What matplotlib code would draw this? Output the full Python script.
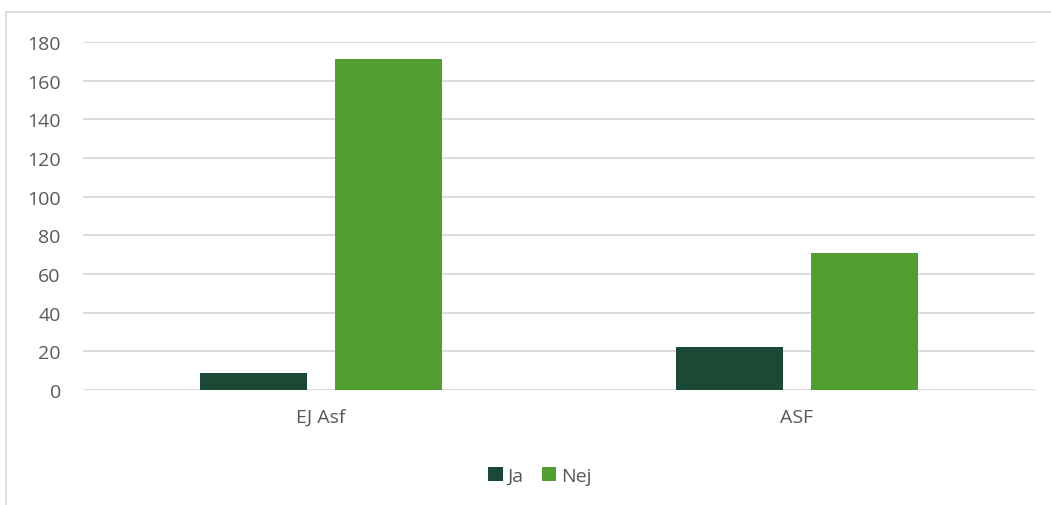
import matplotlib.pyplot as plt
import numpy as np
from matplotlib.patches import Rectangle

categories = ["EJ Asf", "ASF"]
series_names = ["Ja", "Nej"]
ja_values = [9, 22]
nej_values = [171, 71]
y_ticks = [0, 20, 40, 60, 80, 100, 120, 140, 160, 180]

colors = ["#1A4A36", "#519E32"]
text_color = "#595959"
grid_color = "#D9D9D9"

plt.rcParams['font.family'] = ['Open Sans', 'DejaVu Sans']

W, H = 1051, 506
fig = plt.figure(figsize=(W / 100, H / 100), dpi=100)

# chart frame
fig.patches.append(Rectangle((6 / W, -0.1), 1.2, 1 - 13 / H + 0.1,
                             transform=fig.transFigure, fill=False,
                             edgecolor="#D9D9D9", linewidth=1.2))

left, right, top, bottom = 83, 1035, 43, 391
ax = fig.add_axes([left / W, 1 - bottom / H, (right - left) / W, (bottom - top) / H])

x = np.arange(len(categories))
width = 0.223
offset = 0.1418
ax.bar(x - offset, ja_values, width, color=colors[0], label=series_names[0], zorder=3)
ax.bar(x + offset, nej_values, width, color=colors[1], label=series_names[1], zorder=3)

ax.set_xlim(-0.5, len(categories) - 0.5)
ax.set_ylim(0, 180)
ax.set_yticks(y_ticks)
ax.set_xticks(x)
ax.set_xticklabels(categories)
ax.yaxis.grid(True, color=grid_color, linewidth=1.3, zorder=0)
ax.set_axisbelow(True)
for s in ax.spines.values():
    s.set_visible(False)
ax.tick_params(axis="both", length=0, labelsize=14, colors=text_color)
ax.tick_params(axis="y", pad=16)
ax.tick_params(axis="x", pad=13)

leg = fig.legend(loc="center", bbox_to_anchor=(540 / W, 1 - 477 / H), ncol=2,
                 frameon=False, fontsize=14, handlelength=0.75, handleheight=0.75,
                 handletextpad=0.25, columnspacing=0.9)
for t in leg.get_texts():
    t.set_color(text_color)

fig.savefig("out.png", dpi=100, facecolor="white")
